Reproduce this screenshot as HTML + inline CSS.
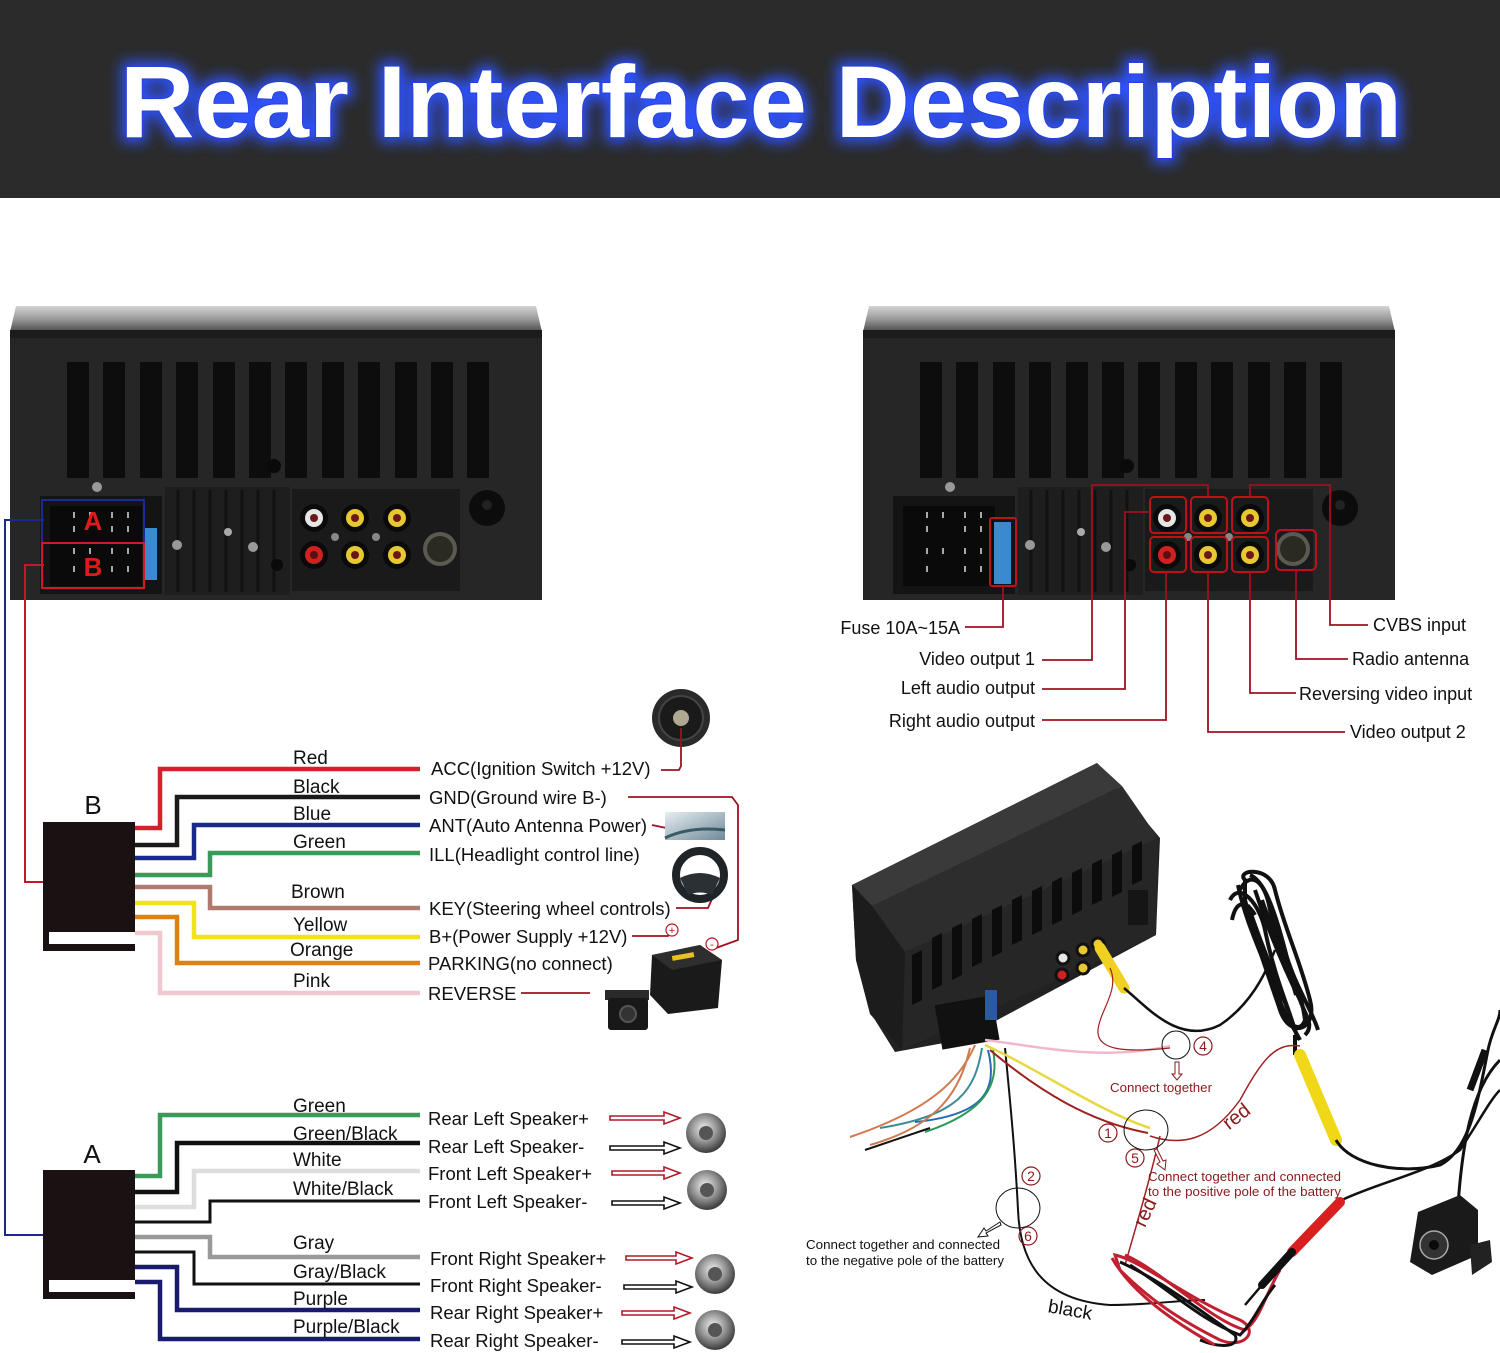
<!DOCTYPE html>
<html><head><meta charset="utf-8"><style>
html,body{margin:0;padding:0;background:#fff;}
svg{display:block;}
text{font-family:"Liberation Sans",sans-serif;}
</style></head><body>
<svg width="1500" height="1353" viewBox="0 0 1500 1353" xmlns="http://www.w3.org/2000/svg">
<defs>
<filter id="glow" x="-10%" y="-50%" width="120%" height="200%"><feGaussianBlur stdDeviation="7"/></filter>
<linearGradient id="topstrip" x1="0" y1="0" x2="0" y2="1"><stop offset="0" stop-color="#d4d4d4"/><stop offset="0.5" stop-color="#9a9a9a"/><stop offset="1" stop-color="#4a4a4a"/></linearGradient>
<radialGradient id="spk" cx="0.45" cy="0.4" r="0.6"><stop offset="0" stop-color="#f2f2f2"/><stop offset="0.5" stop-color="#9a9a9a"/><stop offset="1" stop-color="#3a3a3a"/></radialGradient>
<linearGradient id="antimg" x1="0" y1="0" x2="1" y2="1"><stop offset="0" stop-color="#e8eef2"/><stop offset="1" stop-color="#6e8a98"/></linearGradient>
<g id="dev">
  <polygon points="16,306 536,306 542,332 10,332" fill="url(#topstrip)"/>
  <rect x="10" y="330" width="532" height="270" fill="#262626"/>
  <rect x="10" y="330" width="532" height="8" fill="#1c1c1c"/>
  <g fill="#0d0d0d">
    <rect x="67" y="362" width="22" height="116"/><rect x="103" y="362" width="22" height="116"/>
    <rect x="140" y="362" width="22" height="116"/><rect x="176" y="362" width="22" height="116"/>
    <rect x="213" y="362" width="22" height="116"/><rect x="249" y="362" width="22" height="116"/>
    <rect x="285" y="362" width="22" height="116"/><rect x="322" y="362" width="22" height="116"/>
    <rect x="358" y="362" width="22" height="116"/><rect x="395" y="362" width="22" height="116"/>
    <rect x="431" y="362" width="22" height="116"/><rect x="467" y="362" width="22" height="116"/>
  </g>
  <circle cx="274" cy="466" r="7" fill="#0a0a0a"/>
  <rect x="165" y="487" width="125" height="108" fill="#1e1e1e"/>
  <g stroke="#111" stroke-width="3">
    <line x1="178" y1="490" x2="178" y2="592"/><line x1="194" y1="490" x2="194" y2="592"/>
    <line x1="210" y1="490" x2="210" y2="592"/><line x1="226" y1="490" x2="226" y2="592"/>
    <line x1="242" y1="490" x2="242" y2="592"/><line x1="258" y1="490" x2="258" y2="592"/>
    <line x1="274" y1="490" x2="274" y2="592"/>
  </g>
  <circle cx="228" cy="532" r="4" fill="#aaa"/>
  <circle cx="253" cy="547" r="5" fill="#999"/>
  <circle cx="177" cy="545" r="5" fill="#999"/>
  <circle cx="277" cy="565" r="6" fill="#0a0a0a"/>
  <rect x="292" y="489" width="168" height="102" fill="#1a1a1a"/>
  <circle cx="314" cy="518" r="14" fill="#0a0a0a"/><circle cx="314" cy="518" r="9" fill="#e6e6e6"/><circle cx="314" cy="518" r="4" fill="#6a1818"/>
  <circle cx="355" cy="518" r="14" fill="#0a0a0a"/><circle cx="355" cy="518" r="9" fill="#e8c830"/><circle cx="355" cy="518" r="4" fill="#6a1818"/>
  <circle cx="397" cy="518" r="14" fill="#0a0a0a"/><circle cx="397" cy="518" r="9" fill="#e8c830"/><circle cx="397" cy="518" r="4" fill="#6a1818"/>
  <circle cx="314" cy="555" r="14" fill="#0a0a0a"/><circle cx="314" cy="555" r="9" fill="#d02020"/><circle cx="314" cy="555" r="4" fill="#5a1010"/>
  <circle cx="355" cy="555" r="14" fill="#0a0a0a"/><circle cx="355" cy="555" r="9" fill="#e8c830"/><circle cx="355" cy="555" r="4" fill="#6a1818"/>
  <circle cx="397" cy="555" r="14" fill="#0a0a0a"/><circle cx="397" cy="555" r="9" fill="#e8c830"/><circle cx="397" cy="555" r="4" fill="#6a1818"/>
  <circle cx="335" cy="537" r="4" fill="#888"/><circle cx="376" cy="537" r="4" fill="#888"/>
  <circle cx="440" cy="549" r="17" fill="#5a5a50"/><circle cx="440" cy="549" r="13" fill="#2a2a20"/>
  <circle cx="487" cy="508" r="18" fill="#0c0c0c"/><circle cx="487" cy="505" r="5" fill="#222"/>
  <rect x="40" y="496" width="122" height="98" fill="#141414"/>
  <rect x="50" y="506" width="92" height="80" fill="#0a0a0a"/>
  <g stroke="#ddd" stroke-width="1.5">
    <line x1="74" y1="512" x2="74" y2="518"/><line x1="90" y1="512" x2="90" y2="518"/><line x1="112" y1="512" x2="112" y2="518"/><line x1="128" y1="512" x2="128" y2="518"/>
    <line x1="74" y1="526" x2="74" y2="532"/><line x1="112" y1="526" x2="112" y2="532"/><line x1="128" y1="526" x2="128" y2="532"/>
    <line x1="74" y1="548" x2="74" y2="554"/><line x1="90" y1="548" x2="90" y2="554"/><line x1="112" y1="548" x2="112" y2="554"/><line x1="128" y1="548" x2="128" y2="554"/>
    <line x1="74" y1="566" x2="74" y2="572"/><line x1="112" y1="566" x2="112" y2="572"/><line x1="128" y1="566" x2="128" y2="572"/>
  </g>
  <circle cx="97" cy="487" r="5" fill="#999"/>
</g>
</defs>

<!-- Header -->
<rect x="0" y="0" width="1500" height="198" fill="#2b2b2b"/>
<text x="120" y="137" font-size="102" font-weight="bold" textLength="1282" lengthAdjust="spacingAndGlyphs" fill="#2f52ff" stroke="#2f52ff" stroke-width="10" filter="url(#glow)">Rear Interface Description</text>
<text x="120" y="137" font-size="102" font-weight="bold" textLength="1282" lengthAdjust="spacingAndGlyphs" fill="#ffffff" stroke="#2440e0" stroke-width="2" paint-order="stroke">Rear Interface Description</text>

<!-- Devices -->
<use href="#dev" x="0" y="0"/>
<use href="#dev" x="853" y="0"/>

<!-- left device overlays -->
<rect x="145" y="528" width="12" height="52" fill="#3a8ad0"/>
<rect x="42" y="500" width="102" height="43" fill="none" stroke="#1a2a9a" stroke-width="2"/>
<rect x="42" y="543" width="102" height="45" fill="none" stroke="#d01a2a" stroke-width="2"/>
<text x="93" y="530" font-size="26" font-weight="bold" fill="#e01a1a" text-anchor="middle">A</text>
<text x="93" y="576" font-size="26" font-weight="bold" fill="#e01a1a" text-anchor="middle">B</text>

<!-- right device overlays -->
<rect x="994" y="522" width="17" height="62" fill="#3a8ad0"/>
<g fill="none" stroke="#c0101a" stroke-width="2">
<rect x="990" y="518" width="26" height="68" rx="2"/>
<rect x="1150" y="497" width="36" height="36" rx="4"/><rect x="1191" y="497" width="36" height="36" rx="4"/><rect x="1232" y="497" width="36" height="36" rx="4"/>
<rect x="1150" y="537" width="36" height="35" rx="4"/><rect x="1191" y="537" width="36" height="35" rx="4"/><rect x="1232" y="537" width="36" height="35" rx="4"/>
<rect x="1276" y="530" width="40" height="40" rx="5"/>
</g>
<g fill="none" stroke="#a01020" stroke-width="1.8">
<path d="M1003,586 V627 H965"/>
<path d="M1042,660 H1092 V485 H1208 V497"/>
<path d="M1042,689 H1125 V512 H1150"/>
<path d="M1042,720 H1166 V572"/>
<path d="M1345,732 H1208 V572"/>
<path d="M1296,693 H1250 V572"/>
<path d="M1348,659 H1296 V570"/>
<path d="M1368,625 H1330 V485 H1250 V497"/>
</g>
<g font-size="18" fill="#111">
<text x="960" y="634" text-anchor="end">Fuse 10A~15A</text>
<text x="1035" y="665" text-anchor="end">Video output 1</text>
<text x="1035" y="694" text-anchor="end">Left audio output</text>
<text x="1035" y="727" text-anchor="end">Right audio output</text>
<text x="1373" y="631">CVBS input</text>
<text x="1352" y="665">Radio antenna</text>
<text x="1299" y="700">Reversing video input</text>
<text x="1350" y="738">Video output 2</text>
</g>

<!-- A/B lead lines -->
<path d="M44,520 H5 V1235 H43" fill="none" stroke="#1a2a8a" stroke-width="2"/>
<path d="M44,565 H25 V882 H43" fill="none" stroke="#c01a2a" stroke-width="2"/>

<!-- Connector B -->
<text x="93" y="814" font-size="26" fill="#111" text-anchor="middle">B</text>
<rect x="43" y="822" width="92" height="110" fill="#1a1212"/>
<rect x="43" y="930" width="6" height="16" fill="#1a1212"/>
<rect x="43" y="944" width="92" height="7" fill="#1a1212"/>
<g fill="none" stroke-width="4.5" stroke-linejoin="miter">
<path d="M135,828 H160 V769 H420" stroke="#d4202a"/>
<path d="M135,845 H177 V797 H420" stroke="#1a1a1a"/>
<path d="M135,858 H194 V825 H420" stroke="#1a2a8a"/>
<path d="M135,875 H210 V853 H420" stroke="#3a9a5a"/>
<path d="M135,887 H210 V908 H420" stroke="#b07a70"/>
<path d="M135,903 H194 V937 H420" stroke="#f2e21a"/>
<path d="M135,917 H177 V963 H420" stroke="#e08010"/>
<path d="M135,933 H160 V993 H420" stroke="#f0c8d0"/>
</g>
<g font-size="19" fill="#111">
<text x="293" y="764">Red</text>
<text x="293" y="793">Black</text>
<text x="293" y="820">Blue</text>
<text x="293" y="848">Green</text>
<text x="291" y="898">Brown</text>
<text x="293" y="931">Yellow</text>
<text x="290" y="956">Orange</text>
<text x="293" y="987">Pink</text>
</g>
<g font-size="18.5" fill="#111">
<text x="431" y="775">ACC(Ignition Switch +12V)</text>
<text x="429" y="804">GND(Ground wire B-)</text>
<text x="429" y="832">ANT(Auto Antenna Power)</text>
<text x="429" y="861">ILL(Headlight control line)</text>
<text x="429" y="915">KEY(Steering wheel controls)</text>
<text x="429" y="943">B+(Power Supply +12V)</text>
<text x="428" y="970">PARKING(no connect)</text>
<text x="428" y="1000">REVERSE</text>
</g>

<!-- icons top left -->
<circle cx="681" cy="718" r="29" fill="#2a2a2a"/>
<circle cx="681" cy="718" r="22" fill="#1a1a1a" stroke="#444" stroke-width="2"/>
<circle cx="681" cy="718" r="8" fill="#b0a890"/>
<g fill="none" stroke="#a01020" stroke-width="1.8">
<path d="M661,770 H679 L681,766 V728"/>
<path d="M628,797 H732 L738,805 V940 L716,948"/>
<path d="M652,825 L690,833"/>
<path d="M676,908 H708 L716,890"/>
<path d="M632,936 H668 L672,930"/>
<path d="M521,993 H590"/>
</g>
<rect x="665" y="812" width="60" height="28" fill="url(#antimg)"/>
<path d="M665,838 Q690,826 725,830" stroke="#3a5a68" stroke-width="3" fill="none"/>
<circle cx="700" cy="875" r="24" fill="none" stroke="#1e2428" stroke-width="8"/>
<path d="M680,878 Q700,868 720,878 L712,895 Q700,890 688,895 Z" fill="#2a3034"/>
<circle cx="672" cy="930" r="6" fill="#fff" stroke="#c01020" stroke-width="1.2"/>
<text x="672" y="934" font-size="11" fill="#c01020" text-anchor="middle">+</text>
<circle cx="712" cy="944" r="6" fill="#fff" stroke="#c01020" stroke-width="1.2"/>
<text x="712" y="948" font-size="11" fill="#c01020" text-anchor="middle">-</text>
<polygon points="652,955 700,945 722,960 718,1008 668,1014 650,995" fill="#1a1a1a"/>
<polygon points="652,955 700,945 722,960 672,970" fill="#2e2e2e"/>
<rect x="672" y="954" width="22" height="5" fill="#e8c020" transform="rotate(-10 683 956)"/>
<rect x="605" y="990" width="44" height="10" fill="#2a2a2a"/>
<rect x="608" y="998" width="40" height="32" rx="3" fill="#181818"/>
<circle cx="628" cy="1014" r="8" fill="#333" stroke="#555" stroke-width="2"/>

<!-- Connector A -->
<text x="92" y="1163" font-size="26" fill="#111" text-anchor="middle">A</text>
<rect x="43" y="1170" width="92" height="110" fill="#1a1212"/>
<rect x="43" y="1278" width="6" height="16" fill="#1a1212"/>
<rect x="43" y="1292" width="92" height="7" fill="#1a1212"/>
<g fill="none" stroke-width="4.5">
<path d="M135,1176 H160 V1115 H420" stroke="#3a9a5a"/>
<path d="M135,1192 H177 V1143 H420" stroke="#111"/>
<path d="M135,1207 H194 V1171 H420" stroke="#dedede"/>
<path d="M135,1222 H210 V1201 H420" stroke="#111" stroke-width="3"/>
<path d="M135,1237 H210 V1257 H420" stroke="#999"/>
<path d="M135,1252 H194 V1284 H420" stroke="#111" stroke-width="3"/>
<path d="M135,1267 H177 V1310 H420" stroke="#1a1a70"/>
<path d="M135,1282 H160 V1339 H420" stroke="#1a1a70"/>
</g>
<g font-size="19" fill="#111">
<text x="293" y="1112">Green</text>
<text x="293" y="1140">Green/Black</text>
<text x="293" y="1166">White</text>
<text x="293" y="1195">White/Black</text>
<text x="293" y="1249">Gray</text>
<text x="293" y="1278">Gray/Black</text>
<text x="293" y="1305">Purple</text>
<text x="293" y="1333">Purple/Black</text>
</g>
<g font-size="18.5" fill="#111">
<text x="428" y="1125">Rear Left Speaker+</text>
<text x="428" y="1153">Rear Left Speaker-</text>
<text x="428" y="1180">Front Left Speaker+</text>
<text x="428" y="1208">Front Left Speaker-</text>
<text x="430" y="1265">Front Right Speaker+</text>
<text x="430" y="1292">Front Right Speaker-</text>
<text x="430" y="1319">Rear Right Speaker+</text>
<text x="430" y="1347">Rear Right Speaker-</text>
</g>
<!-- arrows -->
<g fill="#fff" stroke-width="1.6">
<path d="M610,1116 H664 V1112 L680,1118 L664,1124 V1120 H610 Z" stroke="#b01a2a"/>
<path d="M610,1146 H664 V1142 L680,1148 L664,1154 V1150 H610 Z" stroke="#111"/>
<path d="M612,1171 H664 V1167 L680,1173 L664,1179 V1175 H612 Z" stroke="#b01a2a"/>
<path d="M612,1201 H664 V1197 L680,1203 L664,1209 V1205 H612 Z" stroke="#111"/>
<path d="M626,1256 H676 V1252 L692,1258 L676,1264 V1260 H626 Z" stroke="#b01a2a"/>
<path d="M624,1285 H676 V1281 L692,1287 L676,1293 V1289 H624 Z" stroke="#111"/>
<path d="M622,1311 H674 V1307 L690,1313 L674,1319 V1315 H622 Z" stroke="#b01a2a"/>
<path d="M622,1340 H674 V1336 L690,1342 L674,1348 V1344 H622 Z" stroke="#111"/>
</g>
<g>
<circle cx="706" cy="1133" r="20" fill="url(#spk)"/><circle cx="706" cy="1133" r="7" fill="#555"/>
<circle cx="707" cy="1190" r="20" fill="url(#spk)"/><circle cx="707" cy="1190" r="7" fill="#555"/>
<circle cx="715" cy="1274" r="20" fill="url(#spk)"/><circle cx="715" cy="1274" r="7" fill="#555"/>
<circle cx="715" cy="1330" r="20" fill="url(#spk)"/><circle cx="715" cy="1330" r="7" fill="#555"/>
</g>

<!-- Bottom right scene -->
<!-- cable coil -->
<g fill="none" stroke="#111" stroke-width="4">
<path d="M1245,880 C1235,870 1270,865 1275,890 C1285,930 1300,960 1310,1000 C1318,1030 1290,1040 1280,1010 C1270,980 1255,940 1245,900 Z"/>
<path d="M1240,890 C1250,870 1265,880 1270,910 C1280,950 1300,980 1305,1020 C1300,1035 1285,1025 1280,1000 C1270,960 1250,930 1242,900"/>
<path d="M1250,875 C1262,880 1272,900 1285,950 C1292,980 1312,1010 1318,1030"/>
<path d="M1238,885 C1245,920 1260,950 1275,990 C1282,1010 1295,1030 1300,1040"/>
<path d="M1255,890 C1265,920 1280,960 1300,1000 C1305,1015 1315,1025 1305,1035"/>
<path d="M1230,900 C1240,880 1260,905 1265,930 C1275,980 1290,1010 1298,1040"/>
<path d="M1262,900 C1272,930 1288,965 1296,995"/>
<path d="M1248,905 C1258,935 1270,965 1288,1010"/>
<path d="M1232,920 C1236,900 1246,900 1255,915"/>
<path d="M1295,1035 V1055"/>
</g>
<!-- device 3D -->
<polygon points="852,885 1097,763 1160,838 1156,935 960,1040 895,1052 870,1012 856,960" fill="#222"/>
<polygon points="852,885 1097,763 1122,786 872,906" fill="#3a3a3a"/>
<polygon points="872,906 1122,786 1158,838 905,952" fill="#2d2d2d"/>
<polygon points="905,952 1158,838 1156,935 902,1050" fill="#262626"/>
<polygon points="852,885 872,906 905,952 902,1050 870,1014 856,960" fill="#1c1c1c"/>
<g fill="#0c0c0c">
<polygon points="912,955 922,950 922,1000 912,1005"/>
<polygon points="932,938 942,933 942,985 932,990"/>
<polygon points="952,928 962,923 962,975 952,980"/>
<polygon points="972,919 982,914 982,962 972,967"/>
<polygon points="992,910 1002,905 1002,952 992,957"/>
<polygon points="1012,900 1022,895 1022,940 1012,945"/>
<polygon points="1032,891 1042,886 1042,930 1032,935"/>
<polygon points="1052,882 1062,877 1062,920 1052,925"/>
<polygon points="1072,873 1082,868 1082,910 1072,915"/>
<polygon points="1092,864 1102,859 1102,900 1092,905"/>
<polygon points="1112,855 1122,850 1122,892 1112,897"/>
<polygon points="1132,846 1142,841 1142,880 1132,885"/>
</g>
<rect x="1128" y="890" width="20" height="35" fill="#151515"/>
<circle cx="1063" cy="958" r="6" fill="#e6e6e6" stroke="#111" stroke-width="3"/>
<circle cx="1083" cy="950" r="6" fill="#e8c830" stroke="#111" stroke-width="3"/>
<circle cx="1062" cy="975" r="6" fill="#d02020" stroke="#111" stroke-width="3"/>
<circle cx="1083" cy="968" r="6" fill="#e8c830" stroke="#111" stroke-width="3"/>
<circle cx="1098" cy="944" r="6" fill="#e8c830" stroke="#111" stroke-width="3"/>
<rect x="938" y="1000" width="58" height="45" fill="#111" transform="rotate(-10 967 1022)"/>
<rect x="985" y="990" width="12" height="30" fill="#2a5aa0"/>
<!-- yellow plug -->
<path d="M1100,948 L1124,988" stroke="#f0d020" stroke-width="11" stroke-linecap="round"/>
<path d="M1124,988 C1150,1010 1180,1045 1220,1025 C1250,1005 1265,975 1275,950" fill="none" stroke="#111" stroke-width="2.5"/>
<!-- bundle wires -->
<g fill="none" stroke-width="2">
<path d="M975,1045 C960,1080 930,1110 850,1137" stroke="#d07a50"/>
<path d="M982,1048 C975,1090 960,1115 880,1128" stroke="#3a8a9a"/>
<path d="M988,1050 C998,1090 985,1115 915,1122" stroke="#2a6ab0"/>
<path d="M993,1050 C1000,1085 985,1112 925,1132" stroke="#2a9a5a"/>
<path d="M970,1048 C960,1090 940,1125 870,1145" stroke="#d07a50"/>
<path d="M930,1128 L865,1150" stroke="#111"/>
<path d="M1005,1048 C1010,1100 1015,1150 1018,1210 C1020,1260 1040,1300 1110,1305 C1150,1305 1180,1300 1205,1300" stroke="#111"/>
<path d="M985,1040 C1030,1045 1100,1062 1170,1046" stroke="#f0b8c8" stroke-width="2.5"/>
<path d="M985,1045 C1040,1070 1100,1112 1150,1128" stroke="#e8d840" stroke-width="2.5"/>
<path d="M990,1050 C1040,1092 1090,1122 1148,1133" stroke="#a02020"/>
<path d="M1150,1136 C1180,1146 1210,1142 1240,1100 C1262,1060 1275,1042 1300,1046" stroke="#a02020" stroke-width="1.5"/>
<path d="M1160,1136 C1150,1180 1135,1230 1125,1265" stroke="#a02020" stroke-width="1.5"/>
<path d="M1110,968 C1120,990 1100,1010 1098,1030 C1096,1052 1130,1052 1170,1048" stroke="#a02020" stroke-width="1.2"/>
</g>
<!-- red/black loop -->
<g fill="none" stroke-width="3">
<path d="M1115,1255 C1140,1260 1190,1300 1240,1320 C1260,1330 1245,1350 1220,1340 C1180,1320 1150,1300 1120,1270 Z" stroke="#c02030"/>
<path d="M1120,1262 C1160,1280 1200,1310 1235,1335 C1240,1345 1225,1350 1200,1340" stroke="#111"/>
<path d="M1125,1255 C1160,1270 1210,1320 1245,1330 C1260,1320 1265,1295 1280,1270" stroke="#c02030"/>
<path d="M1130,1265 C1170,1290 1200,1320 1240,1335 C1255,1320 1262,1300 1275,1285" stroke="#111"/>
<path d="M1112,1258 C1130,1290 1170,1320 1215,1345" stroke="#c02030"/>
</g>
<!-- yellow RCA on cable -->
<path d="M1300,1055 L1336,1140" stroke="#f0d818" stroke-width="12" stroke-linecap="round"/>
<path d="M1336,1140 C1350,1165 1400,1175 1440,1165 C1470,1150 1478,1100 1488,1050 C1492,1030 1500,1020 1500,1010" fill="none" stroke="#111" stroke-width="3"/>
<path d="M1470,1090 L1485,1050" stroke="#111" stroke-width="7"/>
<path d="M1342,1200 C1380,1182 1430,1172 1460,1150 C1480,1120 1490,1100 1500,1090" fill="none" stroke="#111" stroke-width="2.5"/>
<path d="M1340,1202 L1292,1252" stroke="#d82020" stroke-width="10" stroke-linecap="round"/>
<path d="M1292,1252 L1262,1285" stroke="#111" stroke-width="8" stroke-linecap="round"/>
<path d="M1262,1285 L1245,1305" stroke="#111" stroke-width="2.5"/>
<!-- camera -->
<path d="M1458,1205 C1462,1150 1470,1090 1500,1060" fill="none" stroke="#111" stroke-width="3"/>
<polygon points="1418,1212 1460,1195 1478,1210 1478,1255 1432,1275 1410,1262" fill="#1a1a1a"/>
<circle cx="1434" cy="1245" r="14" fill="#333" stroke="#aaa" stroke-width="1.5"/>
<circle cx="1434" cy="1245" r="5" fill="#0a0a0a"/>
<polygon points="1470,1245 1490,1240 1492,1262 1472,1275" fill="#222"/>
<!-- circles and arrows -->
<g fill="none" stroke="#111" stroke-width="1">
<circle cx="1176" cy="1045" r="14"/>
<ellipse cx="1146" cy="1130" rx="22" ry="20"/>
<ellipse cx="1018" cy="1208" rx="22" ry="20"/>
</g>
<g fill="#fff" stroke="#8b1a1a" stroke-width="1">
<path d="M1175,1062 V1074 H1172 L1177,1080 L1182,1074 H1179 V1062 Z"/>
<path d="M1154,1150 L1160,1162 L1157,1164 L1165,1170 L1166,1160 L1163,1161 L1157,1149 Z"/>
</g>
<path d="M1000,1222 L986,1231 L984,1228 L978,1237 L988,1236 L986,1233 L1001,1225 Z" fill="#fff" stroke="#111" stroke-width="1"/>
<g fill="none" stroke="#8b1a1a" stroke-width="1.2">
<circle cx="1108" cy="1133" r="9"/><circle cx="1031" cy="1176" r="9"/><circle cx="1203" cy="1046" r="9"/><circle cx="1135" cy="1158" r="9"/><circle cx="1028" cy="1236" r="9"/>
</g>
<g font-family="Liberation Serif,serif" font-size="14" fill="#8b1a1a" text-anchor="middle">
<text x="1108" y="1138">1</text><text x="1031" y="1181">2</text><text x="1203" y="1051">4</text><text x="1135" y="1163">5</text><text x="1028" y="1241">6</text>
</g>
<g font-size="13" fill="#8b1a1a">
<text x="1110" y="1092" textLength="102" lengthAdjust="spacingAndGlyphs">Connect together</text>
<text x="1148" y="1181" textLength="193" lengthAdjust="spacingAndGlyphs">Connect together and connected</text>
<text x="1148" y="1196" textLength="193" lengthAdjust="spacingAndGlyphs">to the positive pole of the battery</text>
</g>
<g font-size="13" fill="#111">
<text x="806" y="1249" textLength="194" lengthAdjust="spacingAndGlyphs">Connect together and connected</text>
<text x="806" y="1265" textLength="198" lengthAdjust="spacingAndGlyphs">to the negative pole of the battery</text>
</g>
<text x="1222" y="1126" font-size="20" fill="#8b1a1a" transform="rotate(-38 1232 1118)">red</text>
<text x="1130" y="1225" font-size="20" fill="#8b1a1a" transform="rotate(-65 1140 1215)">red</text>
<text x="1048" y="1316" font-size="19" fill="#111" transform="rotate(10 1070 1310)">black</text>
</svg>
</body></html>
